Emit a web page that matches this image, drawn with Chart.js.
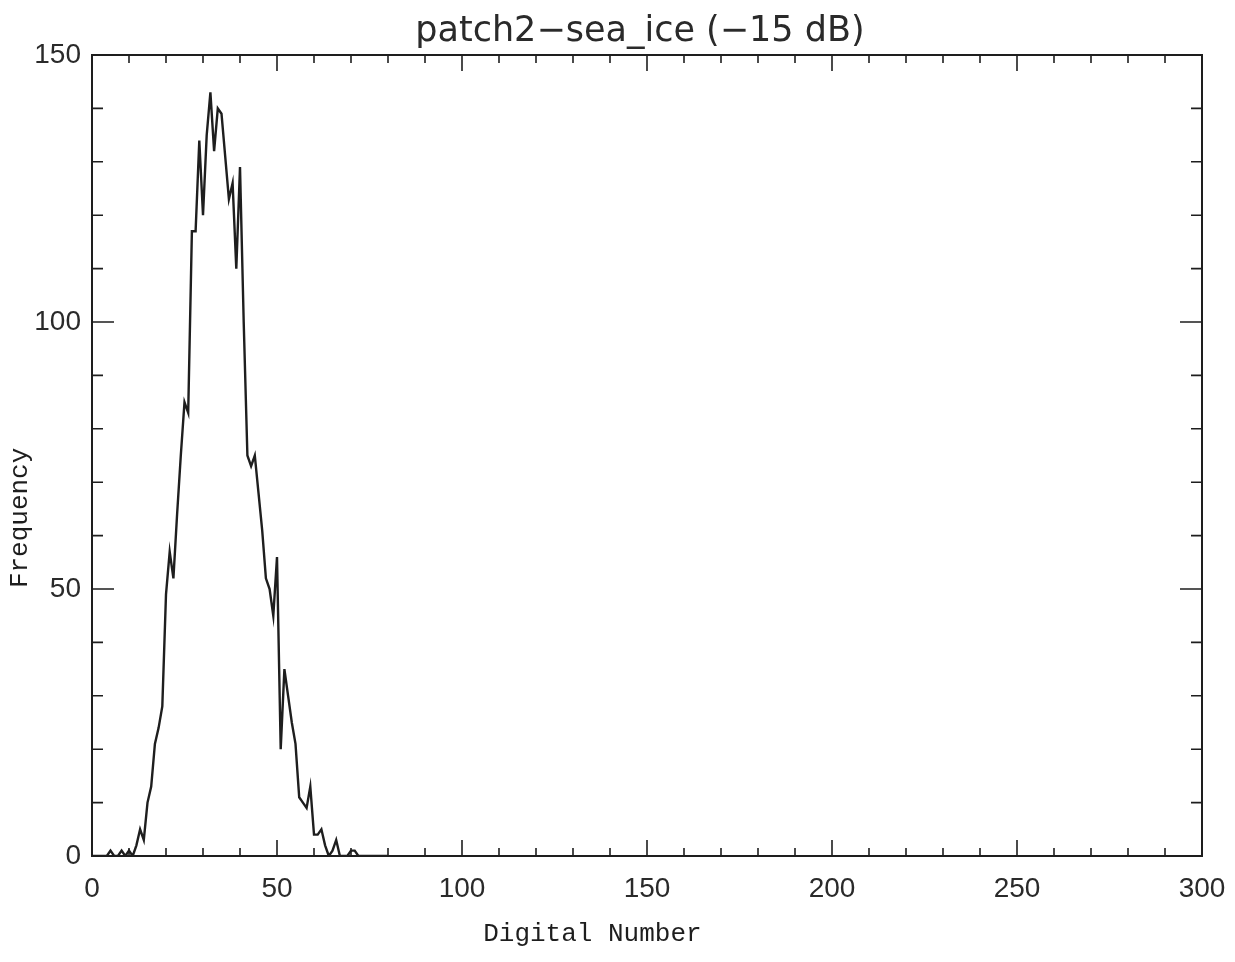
<!DOCTYPE html>
<html>
<head>
<meta charset="utf-8">
<script src="https://cdn.jsdelivr.net/npm/chart.js@4"></script>
<style>
  html, body { margin: 0; padding: 0; background: #fff; }
  #wrap { width: 1235px; height: 962px; }
</style>
</head>
<body>
<div id="wrap"><canvas id="hist"></canvas></div>
<script>
// histogram bins (digital number) and counts
const dn = [];
for (let i = 0; i <= 80; i++) dn.push(i);
const freq = [
  0, 0, 0, 0, 0, 1, 0, 0, 1, 0,
  1, 0, 2, 5, 3, 10, 13, 21, 24, 28,
  49, 57, 52, 64, 75, 85, 83, 117, 117, 134,
  120, 135, 143, 132, 140, 139, 131, 123, 126, 110,
  129, 100, 75, 73, 75, 68, 61, 52, 50, 45,
  56, 20, 35, 30, 25, 21, 11, 10, 9, 13,
  4, 4, 5, 2, 0, 1, 3, 0, 0, 0,
  1, 1, 0, 0, 0, 0, 0, 0, 0, 0, 0
];
const xTickLabels = [0, 50, 100, 150, 200, 250, 300];
const yTickLabels = [0, 50, 100, 150];

const ink = "#1e1e1e";

// box with inward major/minor ticks on all four sides, like the IDL plot
const frame = {
  id: "frame",
  afterDatasetsDraw(chart) {
    const { ctx, chartArea: a, scales } = chart;
    const x = scales.x, y = scales.y;
    ctx.save();
    ctx.strokeStyle = ink;
    ctx.lineWidth = 2;
    ctx.strokeRect(a.left, a.top, a.right - a.left, a.bottom - a.top);
    ctx.lineWidth = 1.6;
    ctx.beginPath();
    for (let v = 0; v <= 300; v += 10) {
      const px = x.getPixelForValue(v);
      const len = v % 50 === 0 ? 16 : 8;
      ctx.moveTo(px, a.bottom); ctx.lineTo(px, a.bottom - len);
      ctx.moveTo(px, a.top); ctx.lineTo(px, a.top + len);
    }
    for (let v = 0; v <= 150; v += 10) {
      const py = y.getPixelForValue(v);
      const len = v % 50 === 0 ? 22 : 11;
      ctx.moveTo(a.left, py); ctx.lineTo(a.left + len, py);
      ctx.moveTo(a.right, py); ctx.lineTo(a.right - len, py);
    }
    ctx.stroke();
    ctx.restore();
  }
};

new Chart(document.getElementById("hist"), {
  type: "line",
  data: {
    datasets: [{
      data: dn.map((v, i) => ({ x: v, y: freq[i] })),
      borderColor: ink,
      borderWidth: 2.4,
      pointRadius: 0,
      tension: 0,
      fill: false
    }]
  },
  options: {
    responsive: true,
    maintainAspectRatio: false,
    animation: false,
    layout: { padding: { left: 0, right: 33, top: 0, bottom: 0 } },
    plugins: {
      legend: { display: false },
      tooltip: { enabled: false },
      title: {
        display: true,
        // leading spaces nudge the centred title right, as in the original
        text: "       patch2\u2212sea_ice (\u221215 dB)",
        color: "#2a2a2a",
        font: { family: "DejaVu Sans", size: 35, weight: "normal", lineHeight: 1 },
        padding: { top: 14, bottom: 6 }
      }
    },
    scales: {
      x: {
        type: "linear",
        min: 0,
        max: 300,
        afterFit: (s) => { s.height = 106; s.paddingLeft = 0; s.paddingRight = 0; },
        afterBuildTicks: (s) => { s.ticks = xTickLabels.map(v => ({ value: v })); },
        grid: { display: false, drawTicks: false },
        border: { display: false },
        ticks: {
          color: "#2a2a2a",
          padding: 16,
          maxRotation: 0,
          font: { family: "Liberation Sans", size: 28 }
        },
        title: {
          display: true,
          text: "Digital Number       ",
          color: ink,
          font: { family: "Liberation Mono", size: 26 },
          padding: { top: 0, bottom: 12 }
        }
      },
      y: {
        min: 0,
        max: 150,
        afterFit: (s) => { s.width = 92; s.paddingTop = 0; s.paddingBottom = 0; },
        afterBuildTicks: (s) => { s.ticks = yTickLabels.map(v => ({ value: v })); },
        grid: { display: false, drawTicks: false },
        border: { display: false },
        ticks: {
          color: "#2a2a2a",
          padding: 11,
          font: { family: "Liberation Sans", size: 28 }
        },
        title: {
          display: true,
          text: "Frequency        ",
          color: ink,
          font: { family: "Liberation Mono", size: 26 },
          padding: { top: 5, bottom: 0 }
        }
      }
    }
  },
  plugins: [frame]
});
</script>
</body>
</html>
